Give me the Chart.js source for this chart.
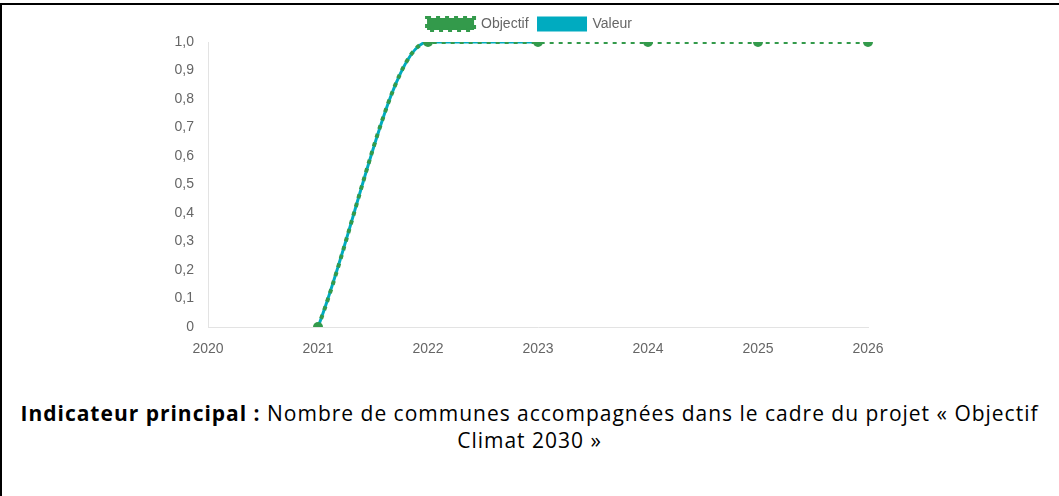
<!DOCTYPE html>
<html>
<head>
<meta charset="utf-8">
<script src="https://cdn.jsdelivr.net/npm/chart.js@4/dist/chart.umd.min.js"></script>
<style>
  html, body { margin: 0; padding: 0; background: #fff; }
  body { width: 1059px; height: 496px; position: relative; overflow: hidden; }
  #topb { position: absolute; left: 0; top: 3px; width: 1059px; height: 2px; background: #000; }
  #leftb { position: absolute; left: 0; top: 3px; width: 2px; height: 493px; background: #000; }
  #wrap { position: absolute; left: 0; top: 0; width: 1059px; height: 380px; }
  #cap { position: absolute; left: 0; top: 400px; width: 1059px; text-align: center;
         font-family: "Open Sans", "Liberation Sans", Arial, sans-serif; font-size: 21px; line-height: 27px; color: #000; white-space: nowrap; }
  #cap b { font-weight: 700; }
</style>
</head>
<body>
<div id="topb"></div><div id="leftb"></div>
<div id="wrap"><canvas id="c"></canvas></div>
<div id="cap"><span id="l1"><b>Indicateur principal :</b> Nombre de communes accompagnées dans le cadre du projet « Objectif</span><br><span id="l2">Climat 2030 »</span></div>
<script>
const years = ['2020', '2021', '2022', '2023', '2024', '2025', '2026'];
const objectif = [null, 0, 1, 1, 1, 1, 1];
const valeur = [null, 0, 1, 1, null, null, null];
const yTickLabels = ['0', '0,1', '0,2', '0,3', '0,4', '0,5', '0,6', '0,7', '0,8', '0,9', '1,0'];

const GREEN = '#339a4b';
const CYAN = '#00abc0';
const FONT = 'Liberation Sans, Arial, sans-serif';

// fit caption line 1 to the reference width
(function () {
  const l1 = document.getElementById('l1');
  const target = 1018;
  const w = l1.getBoundingClientRect().width;
  const n = l1.textContent.length;
  const ls = (target - w) / n;
  document.getElementById('cap').style.letterSpacing = ls.toFixed(3) + 'px';
})();

const legendTweak = {
  id: 'legendTweak',
  afterInit(chart) {
    const lg = chart.legend;
    if (!lg) return;
    const orig = lg.fit;
    lg.fit = function () { orig.call(this); this.height += 1; };
  },
  afterLayout(chart) {
    const lg = chart.legend;
    if (!lg) return;
    lg.left = 0;
    lg.right = chart.width;
    lg.width = chart.width;
  }
};

new Chart(document.getElementById('c'), {
  type: 'line',
  data: {
    labels: years,
    datasets: [
      {
        label: 'Objectif',
        data: objectif,
        borderColor: GREEN,
        backgroundColor: GREEN,
        borderWidth: 4,
        borderDash: [4, 5],
        pointRadius: 5,
        pointBackgroundColor: GREEN,
        pointBorderColor: GREEN,
        pointBorderWidth: 0,
        cubicInterpolationMode: 'monotone',
        fill: false
      },
      {
        label: 'Valeur',
        data: valeur,
        borderColor: CYAN,
        backgroundColor: CYAN,
        borderWidth: 3,
        pointRadius: 0,
        cubicInterpolationMode: 'monotone',
        fill: false
      }
    ]
  },
  plugins: [legendTweak],
  options: {
    responsive: true,
    maintainAspectRatio: false,
    animation: false,
    layout: { padding: { left: 150, right: 191, top: 7, bottom: 13 } },
    plugins: {
      legend: {
        position: 'top',
        labels: {
          boxWidth: 47,
          boxHeight: 12,
          padding: 10,
          color: '#666',
          font: { family: FONT, size: 14 }
        }
      },
      tooltip: { enabled: false }
    },
    scales: {
      x: {
        type: 'category',
        offset: false,
        grid: { display: false },
        border: { display: true, color: '#e3e3e3', width: 1 },
        ticks: {
          color: '#666', padding: 6, maxRotation: 0, autoSkip: false,
          font: { family: FONT, size: 14 }
        },
        afterFit(s) { s.height = 40; }
      },
      y: {
        min: 0, max: 1,
        grid: { display: false },
        border: { display: true, color: '#e3e3e3', width: 1 },
        ticks: {
          stepSize: 0.1,
          color: '#666', padding: 6,
          font: { family: FONT, size: 14 },
          callback: (v, i) => yTickLabels[i]
        },
        afterFit(s) { s.width = 58; }
      }
    }
  }
});
</script>
</body>
</html>
